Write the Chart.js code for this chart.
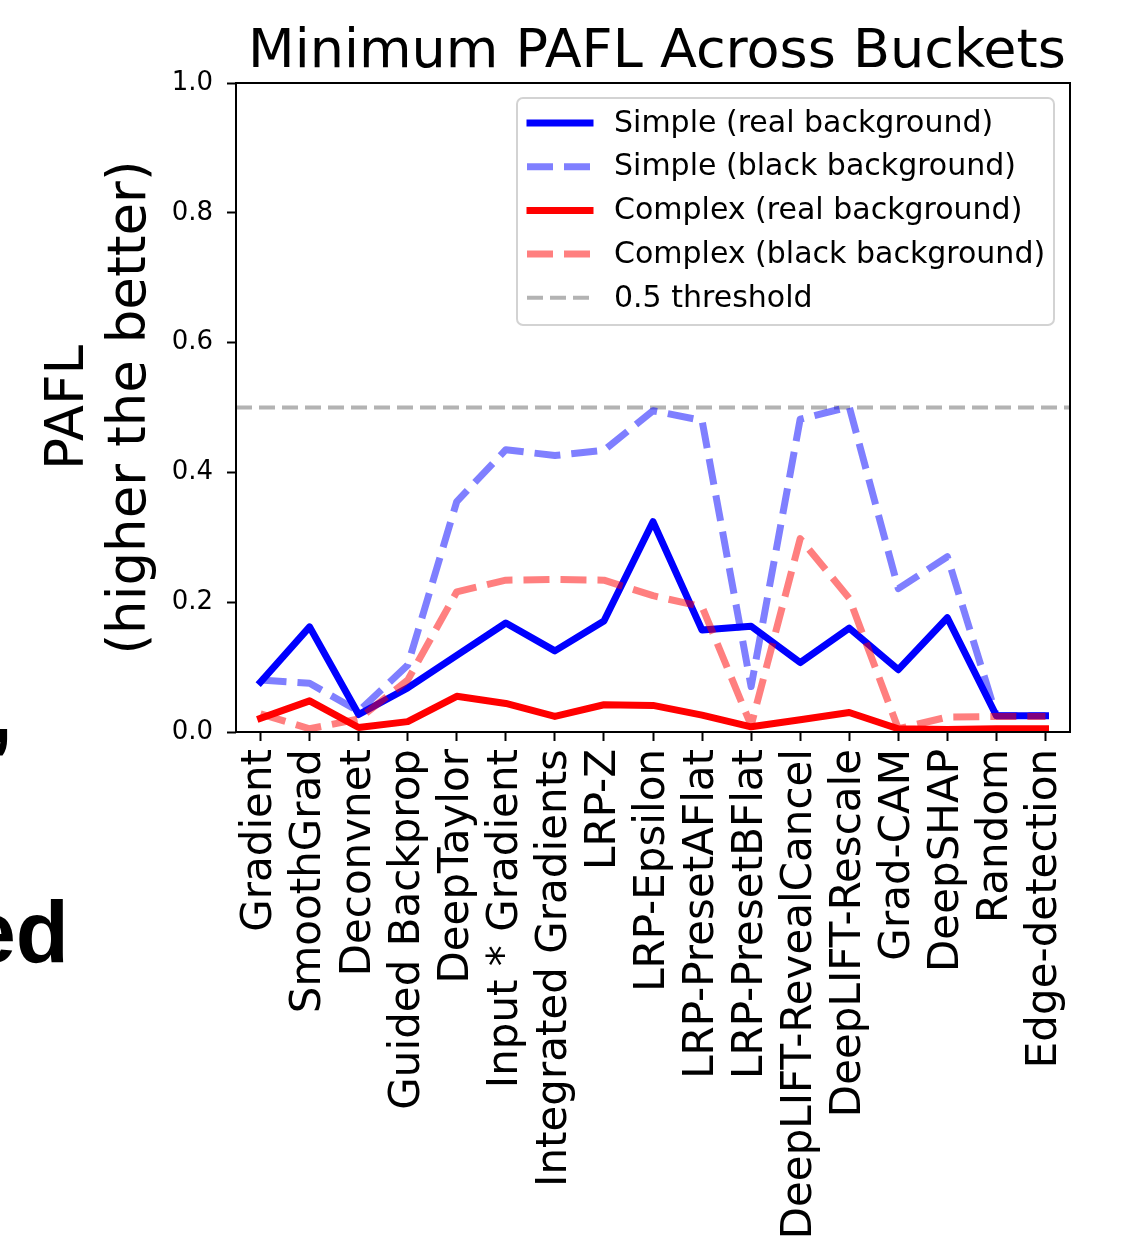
<!DOCTYPE html>
<html>
<head>
<meta charset="utf-8">
<script src="https://cdn.jsdelivr.net/npm/chart.js@4.4.1/dist/chart.umd.min.js"></script>
<style>
  html, body { margin: 0; padding: 0; background: #fff; }
  #wrap { position: relative; width: 1144px; height: 1239px; overflow: hidden; }
  #c { display: block; }
  .frag { position: absolute; font-family: 'Liberation Sans', Arial, sans-serif; font-weight: bold;
          font-size: 87px; color: #000; text-align: right; width: 300px; line-height: 1; }
</style>
</head>
<body>
<div id="wrap">
  <canvas id="c" width="1144" height="1239"></canvas>
  <div class="frag" style="left:-287px; top:668px;">g,</div>
  <div class="frag" style="left:-231px; top:888px;">ed</div>
</div>
<script>
const methods = ['Gradient', 'SmoothGrad', 'Deconvnet', 'Guided Backprop', 'DeepTaylor',
  'Input * Gradient', 'Integrated Gradients', 'LRP-Z', 'LRP-Epsilon', 'LRP-PresetAFlat',
  'LRP-PresetBFlat', 'DeepLIFT-RevealCancel', 'DeepLIFT-Rescale', 'Grad-CAM', 'DeepSHAP',
  'Random', 'Edge-detection'];

const simpleReal   = [0.077, 0.162, 0.027, 0.068, 0.118, 0.168, 0.125, 0.171, 0.324, 0.157, 0.163, 0.107, 0.160, 0.096, 0.176, 0.025, 0.025];
const simpleBlack  = [0.080, 0.075, 0.032, 0.103, 0.355, 0.435, 0.426, 0.434, 0.495, 0.480, 0.070, 0.482, 0.501, 0.221, 0.270, 0.025, 0.025];
const complexReal  = [0.021, 0.048, 0.007, 0.016, 0.055, 0.044, 0.024, 0.042, 0.041, 0.026, 0.008, 0.019, 0.030, 0.005, 0.004, 0.005, 0.005];
const complexBlack = [0.028, 0.005, 0.020, 0.080, 0.216, 0.234, 0.235, 0.234, 0.210, 0.193, 0.010, 0.298, 0.206, 0.005, 0.023, 0.024, 0.024];

const threshold = 0.5;
const yTicks = [0, 0.2, 0.4, 0.6, 0.8, 1.0];

const FONT = "'DejaVu Sans', sans-serif";
const LW = 7;
const DASH = [26, 11];

function line(label, data, color, dashed, order) {
  return {
    label, data, order,
    borderColor: color,
    backgroundColor: color,
    borderWidth: LW,
    borderDash: dashed ? DASH : [],
    borderCapStyle: dashed ? 'butt' : 'square',
    borderJoinStyle: 'round',
    pointRadius: 0,
    tension: 0,
    fill: false
  };
}

const datasets = [
  line('Simple (real background)', simpleReal, 'rgb(0,0,255)', false, 4),
  line('Simple (black background)', simpleBlack, 'rgba(0,0,255,0.5)', true, 3),
  line('Complex (real background)', complexReal, 'rgb(255,0,0)', false, 2),
  line('Complex (black background)', complexBlack, 'rgba(255,0,0,0.5)', true, 1)
];
const thrStyle = { label: '0.5 threshold', color: 'rgba(128,128,128,0.6)', width: 4, dash: [16, 7] };

/* ------------ threshold, frame, legend, titles ------------ */
const decor = {
  id: 'decor',
  beforeDatasetsDraw(chart) {
    const { ctx, chartArea: a, scales } = chart;
    const y = scales.y.getPixelForValue(threshold);
    ctx.save();
    ctx.beginPath();
    ctx.rect(a.left, a.top, a.right - a.left, a.bottom - a.top);
    ctx.clip();
    ctx.strokeStyle = thrStyle.color;
    ctx.lineWidth = thrStyle.width;
    ctx.setLineDash(thrStyle.dash);
    ctx.beginPath();
    ctx.moveTo(a.left, y);
    ctx.lineTo(a.right, y);
    ctx.stroke();
    ctx.restore();
  },
  afterDatasetsDraw(chart) {
    const { ctx, chartArea: a } = chart;
    ctx.save();
    // frame
    ctx.strokeStyle = '#000';
    ctx.lineWidth = 2;
    ctx.setLineDash([]);
    ctx.strokeRect(a.left, a.top, a.right - a.left, a.bottom - a.top);

    // legend
    const bx = 517, by = 98, bw = 537, bh = 227, r = 6;
    ctx.beginPath();
    ctx.roundRect(bx, by, bw, bh, r);
    ctx.fillStyle = 'rgba(255,255,255,0.8)';
    ctx.fill();
    ctx.strokeStyle = '#d3d3d3';
    ctx.lineWidth = 2;
    ctx.stroke();

    const items = datasets.map(d => ({ label: d.label, color: d.borderColor, width: d.borderWidth, dash: d.borderDash, cap: d.borderCapStyle }));
    items.push({ label: thrStyle.label, color: thrStyle.color, width: thrStyle.width, dash: thrStyle.dash, cap: 'butt' });
    ctx.font = '30px ' + FONT;
    ctx.textBaseline = 'middle';
    ctx.textAlign = 'left';
    items.forEach((it, i) => {
      const yy = 123 + i * 43.7;
      ctx.strokeStyle = it.color;
      ctx.lineWidth = it.width;
      ctx.lineCap = it.cap;
      ctx.setLineDash(it.dash);
      ctx.beginPath();
      ctx.moveTo(it.cap === 'square' ? 530 : 527, yy);
      ctx.lineTo(it.cap === 'square' ? 590 : 593, yy);
      ctx.stroke();
      ctx.fillStyle = '#000';
      ctx.fillText(it.label, 614, yy + 1);
    });
    ctx.restore();
  },
  afterDraw(chart) {
    const { ctx, chartArea: a } = chart;
    ctx.save();
    ctx.fillStyle = '#000';
    ctx.font = '54px ' + FONT;
    ctx.textAlign = 'center';
    ctx.textBaseline = 'alphabetic';
    ctx.fillText('Minimum PAFL Across Buckets', 657, 67);

    const cy = (a.top + a.bottom) / 2;
    ctx.font = '53px ' + FONT;
    [['PAFL', 83], ['(higher the better)', 145]].forEach(([t, x]) => {
      ctx.save();
      ctx.translate(x, cy);
      ctx.rotate(-Math.PI / 2);
      ctx.fillText(t, 0, 0);
      ctx.restore();
    });
    ctx.restore();
  }
};

new Chart(document.getElementById('c'), {
  type: 'line',
  data: { labels: methods, datasets },
  options: {
    responsive: false,
    animation: false,
    devicePixelRatio: 1,
    layout: { padding: { top: 83, right: 74, bottom: 0, left: 0 } },
    plugins: { legend: { display: false }, title: { display: false }, tooltip: { enabled: false } },
    scales: {
      x: {
        type: 'category',
        offset: true,
        afterFit: s => { s.height = 507; },
        grid: { display: true, drawOnChartArea: false, drawTicks: true, tickLength: 9, tickWidth: 2, tickColor: '#000', offset: false },
        border: { display: false },
        ticks: {
          color: '#000', font: { family: FONT, size: 42 },
          minRotation: 90, maxRotation: 90, autoSkip: false, padding: 8
        }
      },
      y: {
        min: 0, max: 1,
        afterFit: s => { s.width = 236; },
        afterBuildTicks: s => { s.ticks = yTicks.map(v => ({ value: v })); },
        grid: { display: true, drawOnChartArea: false, drawTicks: true, tickLength: 9, tickWidth: 2, tickColor: '#000' },
        border: { display: false },
        ticks: {
          color: '#000', font: { family: FONT, size: 26 }, padding: 14,
          callback: v => Number(v).toFixed(1)
        }
      }
    }
  },
  plugins: [decor]
});
</script>
</body>
</html>
